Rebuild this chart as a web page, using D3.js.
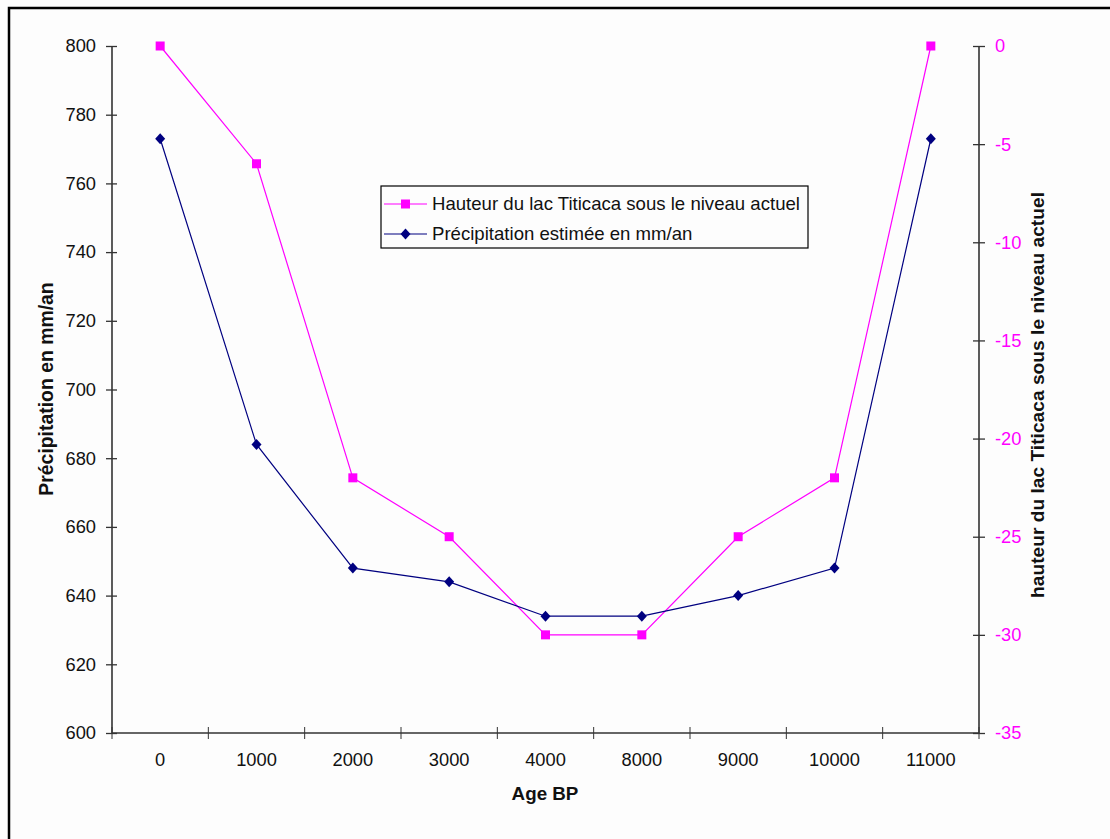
<!DOCTYPE html>
<html><head><meta charset="utf-8">
<script src="https://cdn.jsdelivr.net/npm/d3@7"></script>
<style>body{margin:0;background:#fff}svg{display:block}text{font-family:"Liberation Sans",Arial,sans-serif}</style>
</head><body><svg id="c" width="1110" height="839"></svg>
<script>
const categories = ["0","1000","2000","3000","4000","8000","9000","10000","11000"];
const lakeLevel = [0,-6,-22,-25,-30,-30,-25,-22,0];
const precipitation = [773,684,648,644,634,634,640,648,773];
const leftTicks = [600,620,640,660,680,700,720,740,760,780,800];
const rightTicks = [0,-5,-10,-15,-20,-25,-30,-35];
const seriesNames = ["Hauteur du lac Titicaca sous le niveau actuel","Précipitation estimée en mm/an"];

const svg = d3.select("#c");
svg.append("rect").attr("x",0).attr("y",0).attr("width",1110).attr("height",839).attr("fill","#fdfdfd");
svg.append("rect").attr("x",9).attr("y",8).attr("width",1120).attr("height",850).attr("fill","none").attr("stroke","#000").attr("stroke-width",2.5);

const L=112,R=979,T=46,B=733;
const x = d3.scaleBand().domain(categories).range([L,R]);
const yl = d3.scaleLinear().domain([600,800]).range([B,T]);
const yr = d3.scaleLinear().domain([-35,0]).range([B,T]);
const axisCol="#333";
const FS=18.3;

// left axis
const gl = svg.append("g").attr("transform",`translate(${L},0)`)
  .call(d3.axisLeft(yl).tickValues(leftTicks).tickSize(5).tickPadding(11));
gl.selectAll(".tick line").attr("x2",5).attr("x1",-6);
// right axis
const gr = svg.append("g").attr("transform",`translate(${R},0)`)
  .call(d3.axisRight(yr).tickValues(rightTicks).tickFormat(d=>String(d)).tickSize(5).tickPadding(11));
gr.selectAll(".tick line").attr("x1",-6).attr("x2",6);
gr.selectAll(".tick text").attr("fill","#ff00ff");
// bottom axis
const xTickPos = d3.range(categories.length+1).map(i=>L+i*x.step());
const gb = svg.append("g").attr("transform",`translate(0,${B})`)
  .call(d3.axisBottom(x).tickSize(0).tickPadding(20));
gb.selectAll(".tick line").remove();
gb.selectAll("line.xt").data(xTickPos).join("line").attr("class","xt")
  .attr("x1",d=>d).attr("x2",d=>d).attr("y1",-6).attr("y2",6).attr("stroke",axisCol);

[gl,gr,gb].forEach(g=>{
  g.select(".domain").attr("stroke",axisCol).attr("stroke-width",1.6).attr("d", g===gb?`M${L},0H${R}`:`M0,${T}V${B}`);
  g.selectAll(".tick line").attr("stroke",axisCol).attr("stroke-width",1.3);
  g.selectAll(".tick text").attr("font-size",FS).attr("font-family","Liberation Sans, Arial, sans-serif");
});
gl.selectAll(".tick text").attr("fill","#111");
gb.selectAll(".tick text").attr("fill","#111");

const cx = d=>x(d)+x.bandwidth()/2;
// lake line
const lineL = d3.line().x((d,i)=>cx(categories[i])).y(d=>yr(d));
svg.append("path").attr("d",lineL(lakeLevel)).attr("fill","none").attr("stroke","#ff00ff").attr("stroke-width",1.2);
svg.selectAll("rect.m").data(lakeLevel).join("rect").attr("class","m")
  .attr("x",(d,i)=>cx(categories[i])-4.5).attr("y",d=>yr(d)-4.5).attr("width",9).attr("height",9).attr("fill","#ff00ff");
// precip line
const lineP = d3.line().x((d,i)=>cx(categories[i])).y(d=>yl(d));
svg.append("path").attr("d",lineP(precipitation)).attr("fill","none").attr("stroke","#000080").attr("stroke-width",1.2);
const diamondType = {draw(ctx){ctx.moveTo(0,-5.5);ctx.lineTo(5,0);ctx.lineTo(0,5.5);ctx.lineTo(-5,0);ctx.closePath();}};
const diamond = d3.symbol().type(diamondType);
svg.selectAll("path.d").data(precipitation).join("path").attr("class","d")
  .attr("transform",(d,i)=>`translate(${cx(categories[i])},${yl(d)})`).attr("d",diamond).attr("fill","#000080");

// titles
svg.append("text").attr("transform","translate(53,389) rotate(-90)").attr("text-anchor","middle")
  .attr("font-size",19.4).attr("font-weight","bold").attr("fill","#111").text("Précipitation en mm/an");
svg.append("text").attr("transform","translate(1044,395) rotate(-90)").attr("text-anchor","middle")
  .attr("font-size",19.2).attr("font-weight","bold").attr("fill","#111").text("hauteur du lac Titicaca sous le niveau actuel");
svg.append("text").attr("x",545).attr("y",800).attr("text-anchor","middle")
  .attr("font-size",18.8).attr("font-weight","bold").attr("fill","#111").text("Age BP");

// legend
const lg = svg.append("g");
lg.append("rect").attr("x",381).attr("y",186).attr("width",427).attr("height",62).attr("fill","#fdfdfd").attr("stroke","#000").attr("stroke-width",1.2);
const legRows=[{c:"#ff00ff",t:"sq",y:204},{c:"#000080",t:"di",y:234}];
legRows.forEach((r,i)=>{
  lg.append("line").attr("x1",384).attr("x2",427).attr("y1",r.y).attr("y2",r.y).attr("stroke",r.c).attr("stroke-width",1.2);
  if(r.t==="sq") lg.append("rect").attr("x",401).attr("y",r.y-4.5).attr("width",9).attr("height",9).attr("fill",r.c);
  else lg.append("path").attr("transform",`translate(405.5,${r.y})`).attr("d",diamond).attr("fill",r.c);
  lg.append("text").attr("x",432).attr("y",r.y+6).attr("font-size",18.6).attr("fill","#111").text(seriesNames[i]);
});
</script></body></html>
